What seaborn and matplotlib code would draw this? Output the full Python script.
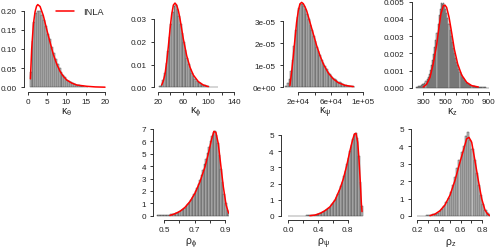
import numpy as np
import pandas as pd
import matplotlib
matplotlib.use("Agg")
import matplotlib.pyplot as plt
import seaborn as sns
from matplotlib.ticker import FixedLocator, FixedFormatter

sns.set_style("ticks")
plt.rcParams['font.family'] = ['Liberation Sans', 'DejaVu Sans']
plt.rcParams['mathtext.fontset'] = 'custom'
plt.rcParams['mathtext.rm'] = 'Liberation Sans'
plt.rcParams['mathtext.it'] = 'Liberation Sans:italic'
plt.rcParams['mathtext.default'] = 'regular'

# ---- data ----
# histogram bar heights (density scale)
kth_hist = [0.04, 0.12, 0.17, 0.195, 0.2, 0.2, 0.19, 0.175, 0.16, 0.14, 0.125, 0.105,
            0.09, 0.075, 0.062, 0.05, 0.041, 0.033, 0.026, 0.02, 0.016, 0.013, 0.01,
            0.008, 0.006, 0.005, 0.004, 0.003, 0.002, 0.0015]
kphi_hist = [0.0004, 0.0012, 0.003, 0.0062, 0.0105, 0.016, 0.022, 0.028, 0.033, 0.0355,
             0.036, 0.0345, 0.0315, 0.028, 0.024, 0.02, 0.0163, 0.013, 0.0103, 0.008,
             0.0063, 0.0049, 0.0038, 0.0029, 0.0022, 0.0017, 0.0013, 0.001, 0.0008,
             0.0006, 0.00045, 0.00035, 0.00027, 0.0002, 0.00015, 0.0001, 0.0001]
kpsi_hist = [0.05e-5, 0.2e-5, 0.4e-5, 0.75e-5, 1.25e-5, 1.9e-5, 2.6e-5, 3.2e-5, 3.6e-5,
             3.8e-5, 3.8e-5, 3.7e-5, 3.55e-5, 3.35e-5, 3.1e-5, 2.85e-5, 2.6e-5, 2.35e-5,
             2.1e-5, 1.85e-5, 1.65e-5, 1.45e-5, 1.25e-5, 1.1e-5, 0.95e-5, 0.82e-5,
             0.7e-5, 0.6e-5, 0.51e-5, 0.43e-5, 0.37e-5, 0.31e-5, 0.26e-5, 0.22e-5,
             0.18e-5, 0.15e-5, 0.12e-5, 0.1e-5, 0.08e-5, 0.065e-5, 0.05e-5, 0.04e-5, 0.03e-5]
kz_hist = [0.05e-3, 0.06e-3, 0.08e-3, 0.1e-3, 0.12e-3, 0.15e-3, 0.19e-3, 0.24e-3, 0.3e-3,
           0.38e-3, 0.48e-3, 0.6e-3, 0.8e-3, 1.05e-3, 1.3e-3, 1.6e-3, 1.95e-3, 2.35e-3,
           2.75e-3, 3.2e-3, 3.7e-3, 4.2e-3, 4.6e-3, 4.9e-3, 4.85e-3, 4.9e-3, 4.75e-3,
           4.6e-3, 4.35e-3, 4.05e-3, 3.7e-3, 3.35e-3, 3.0e-3, 2.65e-3, 2.3e-3, 2.0e-3,
           1.75e-3, 1.5e-3, 1.3e-3, 1.1e-3, 0.92e-3, 0.78e-3, 0.65e-3, 0.54e-3, 0.45e-3,
           0.37e-3, 0.3e-3, 0.25e-3, 0.2e-3, 0.16e-3, 0.13e-3, 0.11e-3, 0.09e-3, 0.07e-3,
           0.06e-3, 0.05e-3, 0.04e-3, 0.035e-3, 0.03e-3, 0.025e-3, 0.02e-3, 0.018e-3,
           0.015e-3, 0.012e-3, 0.01e-3, 0.008e-3, 0.006e-3]
rphi_hist = [0.02, 0.02, 0.03, 0.03, 0.04, 0.05, 0.06, 0.07, 0.09, 0.11, 0.13, 0.16, 0.2,
             0.25, 0.3, 0.37, 0.45, 0.55, 0.66, 0.8, 0.95, 1.1, 1.3, 1.5, 1.72, 1.98, 2.25,
             2.55, 2.9, 3.3, 3.7, 4.15, 4.6, 5.1, 5.55, 6.0, 6.4, 6.75, 6.8, 6.5, 5.9, 4.9,
             3.8, 2.7, 1.75, 1.0, 0.5, 0.22, 0.09, 0.03]
rpsi_hist = [0.01, 0.01, 0.01, 0.01, 0.01, 0.01, 0.015, 0.015, 0.02, 0.02, 0.025, 0.03,
             0.035, 0.04, 0.045, 0.05, 0.06, 0.07, 0.09, 0.11, 0.13, 0.16, 0.2, 0.24, 0.3,
             0.35, 0.42, 0.5, 0.6, 0.72, 0.85, 1.0, 1.18, 1.38, 1.6, 1.85, 2.12, 2.45, 2.8,
             3.2, 3.6, 4.0, 4.4, 4.75, 5.05, 5.15, 4.8, 3.7, 2.1, 0.6]
rz_hist = [0.01, 0.015, 0.02, 0.025, 0.03, 0.045, 0.06, 0.09, 0.13, 0.19, 0.28, 0.4, 0.56,
           0.78, 1.05, 1.4, 1.8, 2.25, 2.75, 3.2, 3.65, 4.05, 4.6, 4.85, 4.35, 3.85, 3.2,
           2.5, 1.8, 1.2, 0.7, 0.35, 0.15, 0.06, 0.02]

# INLA posterior marginals (red curves)
kth_x = [0.7, 1.03, 1.47, 1.9, 2.3, 2.6, 3.2, 4.05, 4.9, 5.8, 6.6, 7.5, 8.4, 9.2, 10.1,
         11.4, 12.7, 15.3, 17.5, 20]
kth_y = [0.022, 0.1, 0.165, 0.197, 0.212, 0.216, 0.211, 0.187, 0.152, 0.117, 0.087,
         0.061, 0.041, 0.029, 0.019, 0.011, 0.006, 0.0026, 0.001, 0.0003]
kphi_x = [26.3, 29, 31.5, 34, 36.7, 39.3, 41.9, 44.5, 47.1, 49.7, 52.5, 55, 57.5, 60.2,
          65.4, 70.6, 75.8, 83.6, 91.5, 99.3]
kphi_y = [0.001, 0.003, 0.0059, 0.011, 0.018, 0.0256, 0.032, 0.0361, 0.037, 0.0361,
          0.0335, 0.030, 0.0257, 0.0212, 0.0139, 0.0088, 0.0054, 0.0025, 0.001, 0.0003]
kpsi_x = [9700, 11800, 13800, 15900, 17900, 20000, 22000, 24100, 26200, 28200, 30300,
          34400, 38500, 42600, 46700, 50800, 56900, 63100, 69200, 77400, 87700]
kpsi_y = [0.08e-5, 0.7e-5, 1.4e-5, 2.2e-5, 2.95e-5, 3.48e-5, 3.79e-5, 3.86e-5, 3.8e-5,
          3.66e-5, 3.48e-5, 2.95e-5, 2.42e-5, 1.89e-5, 1.44e-5, 1.06e-5, 0.65e-5,
          0.38e-5, 0.21e-5, 0.09e-5, 0.03e-5]
kz_x = [300, 330, 361, 391, 422, 443, 461, 483, 498, 513, 535, 559, 583, 614, 650, 696,
        742, 803]
kz_y = [0.00004, 0.0002, 0.0006, 0.0014, 0.0025, 0.0035, 0.0043, 0.00477, 0.0048,
        0.00467, 0.0041, 0.0032, 0.00225, 0.00138, 0.00074, 0.00031, 0.00012, 0.00004]
rphi_x = [0.537, 0.57, 0.603, 0.636, 0.669, 0.702, 0.735, 0.768, 0.79, 0.812, 0.827,
          0.84, 0.856, 0.871, 0.889, 0.907, 0.922, 0.937]
rphi_y = [0.02, 0.16, 0.35, 0.67, 1.14, 1.81, 2.74, 3.94, 5.0, 6.2, 6.81, 6.73, 5.8, 4.2,
          2.34, 0.88, 0.27, 0.05]
rpsi_x = [0.29, 0.36, 0.427, 0.494, 0.562, 0.629, 0.697, 0.742, 0.787, 0.831, 0.863,
          0.89, 0.912, 0.935, 0.953, 0.971, 0.984, 0.993]
rpsi_y = [0.02, 0.06, 0.16, 0.33, 0.57, 0.98, 1.69, 2.31, 3.12, 4.04, 4.65, 5.06, 5.1,
          4.55, 3.43, 2.0, 0.78, 0.27]
rz_x = [0.317, 0.363, 0.409, 0.455, 0.502, 0.548, 0.594, 0.625, 0.655, 0.677, 0.702,
        0.732, 0.763, 0.794, 0.825, 0.849, 0.871]
rz_y = [0.02, 0.11, 0.3, 0.63, 1.2, 2.05, 3.1, 3.76, 4.43, 4.52, 4.24, 3.19, 2.05, 1.0,
        0.34, 0.11, 0.02]

# axis ticks and labels
kth_xt, kth_xl = [0, 5, 10, 15, 20], ["0", "5", "10", "15", "20"]
kth_yt, kth_yl = [0, 0.05, 0.1, 0.15, 0.2], ["0.00", "0.05", "0.10", "0.15", "0.20"]
kphi_xt, kphi_xl = [20, 40, 60, 80, 100, 120, 140], ["20", "", "60", "", "100", "", "140"]
kphi_yt, kphi_yl = [0, 0.01, 0.02, 0.03], ["0.00", "0.01", "0.02", "0.03"]
kpsi_xt, kpsi_xl = [2e4, 4e4, 6e4, 8e4, 1e5], ["2e+04", "", "6e+04", "", "1e+05"]
kpsi_yt, kpsi_yl = [0, 1e-5, 2e-5, 3e-5], ["0e+00", "1e-05", "2e-05", "3e-05"]
kz_xt, kz_xl = [300, 400, 500, 600, 700, 800, 900], ["300", "", "500", "", "700", "", "900"]
kz_yt = [0, 0.001, 0.002, 0.003, 0.004, 0.005]
kz_yl = ["0.000", "0.001", "0.002", "0.003", "0.004", "0.005"]
rphi_xt, rphi_xl = [0.5, 0.6, 0.7, 0.8, 0.9], ["0.5", "", "0.7", "", "0.9"]
rphi_yt, rphi_yl = [0, 1, 2, 3, 4, 5, 6, 7], ["0", "1", "2", "3", "4", "5", "6", "7"]
rpsi_xt, rpsi_xl = [0.0, 0.2, 0.4, 0.6, 0.8], ["0.0", "", "0.4", "", "0.8"]
rpsi_yt, rpsi_yl = [0, 1, 2, 3, 4, 5], ["0", "1", "2", "3", "4", "5"]
rz_xt = [0.2, 0.3, 0.4, 0.5, 0.6, 0.7, 0.8]
rz_xl = ["0.2", "", "0.4", "", "0.6", "", "0.8"]
rz_yt, rz_yl = [0, 1, 2, 3, 4, 5], ["0", "1", "2", "3", "4", "5"]

W, H = 496, 251
fig = plt.figure(figsize=(W / 100, H / 100), dpi=100)


def place(box, xt, yt):
    # box in pixels (left, right, bottom, top); xt/yt = (value a, pixel a, value b, pixel b)
    L, R, B, T = box
    a, pa, b, pb = xt
    s = (pb - pa) / (b - a)
    xlim = (a + (L - pa) / s, a + (R - pa) / s)
    a, pa, b, pb = yt
    s = (pa - pb) / (b - a)
    ylim = (a + (pa - B) / s, a + (pa - T) / s)
    ax = fig.add_axes([L / W, 1 - B / H, (R - L) / W, (B - T) / H])
    return ax, xlim, ylim


panels = [
    dict(h=kth_hist, start=0.5, width=0.5, cx=kth_x, cy=kth_y, xt=kth_xt, xl=kth_xl,
         yt=kth_yt, yl=kth_yl, lab=r'$\kappa_\theta$',
         box=(24, 108.7, 93, 0), xm=(0, 27.7, 20, 105), ym=(0, 88.3, 0.2, 11.7), labpx=112.5),
    dict(h=kphi_hist, start=22.5, width=2.5, cx=kphi_x, cy=kphi_y, xt=kphi_xt, xl=kphi_xl,
         yt=kphi_yt, yl=kphi_yl, lab=r'$\kappa_\phi$',
         box=(154, 238, 93, 0), xm=(20, 157.7, 140, 234.3), ym=(0, 88.3, 0.03, 20), labpx=112.5),
    dict(h=kpsi_hist, start=4000, width=2000, cx=kpsi_x, cy=kpsi_y, xt=kpsi_xt, xl=kpsi_xl,
         yt=kpsi_yt, yl=kpsi_yl, lab=r'$\kappa_\psi$',
         box=(282.7, 367, 93, 0), xm=(2e4, 298.3, 1e5, 363.3), ym=(0, 88.3, 3e-5, 22.3), labpx=112.5),
    dict(h=kz_hist, start=230, width=10, cx=kz_x, cy=kz_y, xt=kz_xt, xl=kz_xl,
         yt=kz_yt, yl=kz_yl, lab=r'$\kappa_z$',
         box=(411.7, 493, 93, 0), xm=(300, 423.3, 900, 489), ym=(0, 88.7, 0.005, 2.7), labpx=112.5),
    dict(h=rphi_hist, start=0.45, width=0.01, cx=rphi_x, cy=rphi_y, xt=rphi_xt, xl=rphi_xl,
         yt=rphi_yt, yl=rphi_yl, lab=r'$\rho_\phi$',
         box=(153.3, 229, 221, 126), xm=(0.5, 164.3, 0.9, 225), ym=(0, 216.7, 7, 130), labpx=243.5),
    dict(h=rpsi_hist, start=0.0, width=0.02, cx=rpsi_x, cy=rpsi_y, xt=rpsi_xt, xl=rpsi_xl,
         yt=rpsi_yt, yl=rpsi_yl, lab=r'$\rho_\psi$',
         box=(281, 366, 221, 126), xm=(0.0, 288.3, 0.8, 347.7), ym=(0, 217, 5, 136), labpx=243.5),
    dict(h=rz_hist, start=0.2, width=0.02, cx=rz_x, cy=rz_y, xt=rz_xt, xl=rz_xl,
         yt=rz_yt, yl=rz_yl, lab=r'$\rho_z$',
         box=(411, 490, 221, 126), xm=(0.2, 417.3, 0.8, 482.3), ym=(0, 217, 5, 130), labpx=243.5),
]

for i, p in enumerate(panels):
    ax, xlim, ylim = place(p['box'], p['xm'], p['ym'])
    n = len(p['h'])
    edges = p['start'] + p['width'] * np.arange(n + 1)
    centers = (edges[:-1] + edges[1:]) / 2
    df = pd.DataFrame({'x': centers, 'w': p['h']})
    sns.histplot(data=df, x='x', weights='w', bins=edges.tolist(), stat='count', ax=ax,
                 color='#bdbdbd', edgecolor='#3c3c3c', linewidth=0.3, alpha=1)
    sns.lineplot(x=p['cx'], y=p['cy'], ax=ax, color='red', lw=1.1, estimator=None,
                 sort=False, label='INLA' if i == 0 else None, legend=(i == 0))
    ax.set_xlim(xlim)
    ax.set_ylim(ylim)
    ax.set_facecolor('none')
    for s in ['top', 'right']:
        ax.spines[s].set_visible(False)
    for s in ['left', 'bottom']:
        ax.spines[s].set_linewidth(0.7)
        ax.spines[s].set_color('#333333')
    ax.spines['bottom'].set_bounds(p['xt'][0], p['xt'][-1])
    ax.spines['left'].set_bounds(p['yt'][0], p['yt'][-1])
    ax.xaxis.set_major_locator(FixedLocator(p['xt']))
    ax.xaxis.set_major_formatter(FixedFormatter(p['xl']))
    ax.yaxis.set_major_locator(FixedLocator(p['yt']))
    ax.yaxis.set_major_formatter(FixedFormatter(p['yl']))
    ax.tick_params(axis='both', direction='out', length=2.2, width=0.7, color='#333333',
                   labelsize=5.9, labelcolor='#222222')
    ax.tick_params(axis='x', pad=1.8)
    ax.tick_params(axis='y', pad=3)
    ax.set_ylabel('')
    ax.set_xlabel(p['lab'], fontsize=7.5, color='#222222')
    L, R, B, T = p['box']
    ax.xaxis.set_label_coords(0.5, (B - p['labpx']) / (B - T))
    ax.xaxis.label.set_va('center')
    if i == 0:
        ax.legend(loc='center left', bbox_to_anchor=(56 / W, 1 - 12.5 / H),
                  bbox_transform=fig.transFigure, frameon=False, fontsize=6.7,
                  handlelength=1.94, handletextpad=0.95, borderpad=0, borderaxespad=0)

fig.savefig('out.png', dpi=100)
